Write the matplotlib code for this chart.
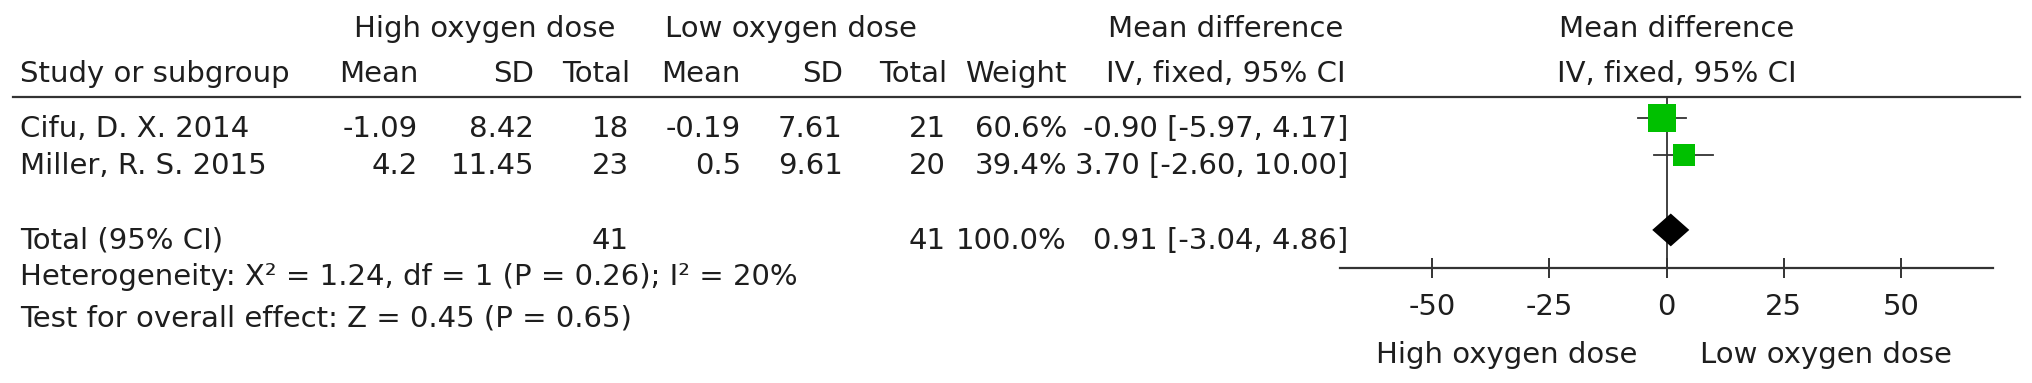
import matplotlib
matplotlib.use("Agg")
import matplotlib.pyplot as plt
import matplotlib.transforms as mtrans
from matplotlib.lines import Line2D

plt.rcParams['font.family'] = ['DejaVu Sans']
plt.rcParams['axes.unicode_minus'] = False

# ---- datos ----
studies = ['Cifu, D. X. 2014', 'Miller, R. S. 2015']
mean_high = [-1.09, 4.2]
sd_high = [8.42, 11.45]
n_high = [18, 23]
mean_low = [-0.19, 0.5]
sd_low = [7.61, 9.61]
n_low = [21, 20]
weight = [60.6, 39.4]
md = [-0.90, 3.70]
ci_lo = [-5.97, -2.60]
ci_hi = [4.17, 10.00]

tot_high, tot_low = 41, 41
tot_weight = 100.0
tot_md, tot_lo, tot_hi = 0.91, -3.04, 4.86

heterog = 'Heterogeneity: X\u00b2 = 1.24, df = 1 (P = 0.26); I\u00b2 = 20%'
overall = 'Test for overall effect: Z = 0.45 (P = 0.65)'
xticks = [-50, -25, 0, 25, 50]
left_label, right_label = 'High oxygen dose', 'Low oxygen dose'

# ---- layout ----
W, H = 2032, 383
FS = 21
TXT = '#1e1e1e'
LN = '#333333'


def fx(px):
    return px / W


def fy(py):
    return 1 - py / H


fig = plt.figure(figsize=(W / 100, H / 100), dpi=100)
ax = fig.add_axes([fx(1340), fy(268), (1993 - 1340) / W, (268 - 97) / H])
ax.set_xlim(-69.6, 69.6)
ax.set_ylim(4.02, -0.563)
for s in ['left', 'right', 'top']:
    ax.spines[s].set_visible(False)
ax.spines['bottom'].set_color(LN)
ax.spines['bottom'].set_linewidth(1.6)
ax.set_yticks([])
ax.set_xticks(xticks)
ax.set_xticklabels([str(t) for t in xticks])
ax.tick_params(axis='x', direction='inout', length=14.4, width=1.4, color=LN,
               pad=11, labelsize=FS, labelcolor=TXT)
ax.axvline(0, color=LN, lw=1.3, zorder=1)

rows = [0, 1]
total_row = 3

# estudios
for r, m, lo, hi, w in zip(rows, md, ci_lo, ci_hi, weight):
    ax.plot([lo, hi], [r, r], color=LN, lw=1.3, zorder=2)
    ax.plot([m], [r], marker='s', ms=36 * (w / 100) ** 0.5 * 0.72,
            color='#00c000', mew=0, zorder=3)

# diamante total
dh = 0.44
ax.fill([tot_lo, tot_md, tot_hi, tot_md],
        [total_row, total_row - dh, total_row, total_row + dh],
        color='black', lw=0, zorder=4)

# linea de cabecera
fig.add_artist(Line2D([fx(13), fx(2020)], [fy(97), fy(97)],
                      transform=fig.transFigure, color=LN, lw=1.6))

# cabeceras
def ftxt(px, py, s, ha='left'):
    fig.text(fx(px), fy(py), s, ha=ha, va='baseline', fontsize=FS, color=TXT)


ftxt(485, 37, 'High oxygen dose', 'center')
ftxt(791, 37, 'Low oxygen dose', 'center')
ftxt(1226, 37, 'Mean difference', 'center')
ftxt(1677, 37, 'Mean difference', 'center')
ftxt(20, 82, 'Study or subgroup')
ftxt(418, 82, 'Mean', 'right')
ftxt(534, 82, 'SD', 'right')
ftxt(630, 82, 'Total', 'right')
ftxt(741, 82, 'Mean', 'right')
ftxt(843, 82, 'SD', 'right')
ftxt(947, 82, 'Total', 'right')
ftxt(1067, 82, 'Weight', 'right')
ftxt(1226, 82, 'IV, fixed, 95% CI', 'center')
ftxt(1677, 82, 'IV, fixed, 95% CI', 'center')

# filas de tabla
row_tr = (mtrans.blended_transform_factory(fig.transFigure, ax.transData)
          + mtrans.ScaledTranslation(0, -0.19, fig.dpi_scale_trans))


def rtxt(px, r, s, ha='right'):
    fig.text(fx(px), r, s, ha=ha, va='baseline', fontsize=FS, color=TXT,
             transform=row_tr)


for i, r in enumerate(rows):
    rtxt(20, r, studies[i], 'left')
    rtxt(418, r, f'{mean_high[i]:g}')
    rtxt(534, r, f'{sd_high[i]:g}')
    rtxt(629, r, str(n_high[i]))
    rtxt(741, r, f'{mean_low[i]:g}')
    rtxt(843, r, f'{sd_low[i]:g}')
    rtxt(946, r, str(n_low[i]))
    rtxt(1067, r, f'{weight[i]:.1f}%')
    rtxt(1348, r, f'{md[i]:.2f} [{ci_lo[i]:.2f}, {ci_hi[i]:.2f}]')

rtxt(20, total_row, 'Total (95% CI)', 'left')
rtxt(629, total_row, str(tot_high))
rtxt(946, total_row, str(tot_low))
rtxt(1067, total_row, f'{tot_weight:.1f}%')
rtxt(1348, total_row, f'{tot_md:.2f} [{tot_lo:.2f}, {tot_hi:.2f}]')

ftxt(20, 285, heterog)
ftxt(20, 327, overall)

# etiquetas bajo el eje
lab_tr = mtrans.blended_transform_factory(ax.transData, fig.transFigure)
ax.text(-34, fy(363), left_label, ha='center', va='baseline', fontsize=FS,
        color=TXT, transform=lab_tr)
ax.text(34, fy(363), right_label, ha='center', va='baseline', fontsize=FS,
        color=TXT, transform=lab_tr)

fig.savefig('out.png', dpi=100, facecolor='white')
